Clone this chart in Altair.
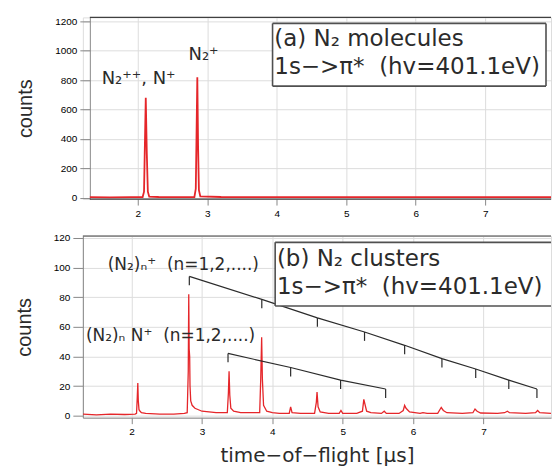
import altair as alt
import pandas as pd

# ---------- (a) N2 molecules: TOF spectrum ----------
tof_a = [1.31, 1.60, 1.90, 2.07, 2.09, 2.10, 2.115, 2.13, 2.145, 2.165, 2.30, 2.55,
         2.815, 2.835, 2.845, 2.857, 2.868, 2.88, 2.90, 3.20, 4.00, 5.00, 6.00, 7.00, 7.96]
counts_a = [3, 2, 3, 4, 40, 300, 680, 300, 40, 6, 4, 3,
            4, 60, 400, 820, 350, 50, 8, 4, 3, 3, 3, 3, 3]

# ---------- (b) N2 clusters: TOF spectrum ----------
tof_b = [1.31, 1.50, 1.70, 1.90, 2.05, 2.07, 2.08, 2.088, 2.095, 2.105, 2.12, 2.14,
         2.20, 2.40, 2.60, 2.75, 2.79, 2.805, 2.812, 2.818, 2.825, 2.83, 2.84, 2.86,
         2.90, 2.95, 3.00, 3.10, 3.20, 3.30, 3.36, 3.375, 3.385, 3.395, 3.41, 3.45,
         3.55, 3.70, 3.82, 3.835, 3.848, 3.858, 3.875, 3.92, 4.00, 4.10, 4.24, 4.26,
         4.28, 4.40, 4.60, 4.625, 4.635, 4.65, 4.68, 4.80, 4.95, 4.975, 5.00, 5.20,
         5.28, 5.30, 5.315, 5.34, 5.40, 5.55, 5.59, 5.62, 5.80, 5.86, 5.88, 5.90,
         5.95, 6.10, 6.14, 6.20, 6.35, 6.38, 6.40, 6.43, 6.48, 6.70, 6.85, 6.88,
         6.91, 6.96, 7.20, 7.30, 7.34, 7.37, 7.60, 7.74, 7.77, 7.80, 7.96]
counts_b = [1.0, 0.5, 1.0, 0.8, 1.0, 1.5, 12, 22, 10, 4, 3, 2,
            1.5, 1.0, 1.0, 1.5, 2, 30, 82, 45, 40, 20, 10, 7,
            5, 4, 3, 2.5, 2, 2, 2, 15, 30, 14, 5, 3,
            2, 2, 2, 25, 53, 25, 7, 3, 2, 1.5, 1.5, 6,
            2, 1.5, 1.5, 9, 16, 6, 2.5, 1.5, 1.5, 3.5, 1.5, 1.5,
            3, 11, 8, 3, 2, 1.5, 3, 1.5, 1.5, 3.5, 7, 5,
            2.5, 1.5, 2, 1.5, 1.5, 4, 5.5, 3.5, 2, 1.5, 2, 4.5,
            3, 1.8, 1.5, 2, 3, 2, 1.5, 2, 3.5, 2, 1.5]

# comb markers: (N2)n+ series and (N2)n N+ series (tick position, tick top)
comb1_t = [2.82, 3.85, 4.64, 5.31, 5.88, 6.41, 6.89, 7.36, 7.76]
comb1_y = [94, 78.5, 66, 56.5, 47.5, 38.5, 31.5, 24, 18]
comb2_t = [3.37, 4.26, 4.97, 5.61]
comb2_y = [42, 32.5, 24, 18]

RED = "#e5262a"
INK = "#2b2b2b"
FRAME = "#404040"
BOX = "#505050"
XTICKS = [2, 3, 4, 5, 6, 7]
GAP = "\u00a0\u00a0"

df_a = pd.DataFrame({"t": tof_a, "c": counts_a})
df_b = pd.DataFrame({"t": tof_b, "c": counts_b})
df_c1 = pd.DataFrame({"t": comb1_t, "y": comb1_y})
df_c2 = pd.DataFrame({"t": comb2_t, "y": comb2_y})

PANEL_W = 469
PANEL_H = 182
INSET_A = 7  # the upper frame starts a little to the right of the lower one


def xenc(domain, title, show_domain):
    return alt.X(
        "t:Q",
        scale=alt.Scale(domain=domain, nice=False, zero=False),
        axis=alt.Axis(values=XTICKS, format="d", title=title, tickSize=6,
                      tickCount=20, labelPadding=3, titlePadding=9, titleFontSize=20,
                      titleFont="DejaVu Sans", titleFontWeight="normal",
                      titleColor=INK, domain=show_domain, labelFlush=False),
    )


def yenc(domain, ticks, offset):
    return alt.Y(
        "c:Q",
        scale=alt.Scale(domain=domain, nice=False, zero=False),
        axis=alt.Axis(values=ticks, format="d", title="counts", tickSize=10,
                      tickCount=20, labelPadding=3, titlePadding=19, titleFontSize=20,
                      titleFont="Liberation Sans", titleFontWeight="normal",
                      titleColor=INK, offset=offset, labelOverlap=False),
    )


def hrule(x0, y, color=FRAME, width=1.2):
    return alt.Chart().mark_rule(color=color, strokeWidth=width).encode(
        x=alt.value(x0), x2=alt.value(PANEL_W), y=alt.value(y)
    )


def legend_box(x0, x1, ytop, ybot, closed):
    # white panel with a grey outline; the open one runs on past the right edge
    fill = alt.Chart().mark_rect(fill="white", clip=True).encode(
        x=alt.datum(x0), x2=alt.datum(x1), y=alt.datum(ytop), y2=alt.datum(ybot)
    )
    edges = [
        alt.Chart().mark_rule(color=BOX, strokeWidth=1.6, clip=True).encode(
            x=alt.datum(x0), x2=alt.datum(x1), y=alt.datum(yv))
        for yv in (ytop, ybot)
    ]
    sides = [x0, x1] if closed else [x0]
    verts = [
        alt.Chart().mark_rule(color=BOX, strokeWidth=1.6).encode(
            x=alt.datum(xv), y=alt.datum(ytop), y2=alt.datum(ybot))
        for xv in sides
    ]
    return [fill] + edges + verts


def label(text, x, y, size, font="DejaVu Sans"):
    return alt.Chart().mark_text(text=text, align="left", baseline="alphabetic",
                                 fontSize=size, font=font, color=INK,
                                 clip=True).encode(
        x=alt.datum(x), y=alt.datum(y)
    )


# ---------- top panel ----------
XDOM_A = [1.2094, 7.948]
YDOM_A = [-10, 1227]
line_a = alt.Chart(df_a).mark_line(color=RED, strokeWidth=1.8, clip=True).encode(
    x=xenc(XDOM_A, None, False),
    y=yenc(YDOM_A, [0, 200, 400, 600, 800, 1000, 1200], -INSET_A),
)
top = alt.layer(
    line_a,
    hrule(INSET_A, 0),
    hrule(INSET_A, PANEL_H),
    *legend_box(3.94, 7.876, 1186, 759, True),
    label("(a) N₂ molecules", 3.965, 1031, 23),
    label("1s−>π*" + GAP + "(hv=401.1eV)", 3.965, 841, 23),
    label("N₂⁺⁺, N⁺", 1.48, 773, 18),
    label("N₂⁺", 2.73, 936, 18),
).properties(width=PANEL_W, height=PANEL_H)

# ---------- bottom panel ----------
XDOM_B = [1.307, 7.96]
YDOM_B = [-1.35, 121.3]
line_b = alt.Chart(df_b).mark_line(color=RED, strokeWidth=1.3, clip=True).encode(
    x=xenc(XDOM_B, "time−of−flight [µs]", True),
    y=yenc(YDOM_B, [0, 20, 40, 60, 80, 100, 120], 0),
)


def comb(df):
    ln = alt.Chart(df).mark_line(color=INK, strokeWidth=1.2).encode(x="t:Q", y="y:Q")
    tk = alt.Chart(df).transform_calculate(y2="datum.y - 6").mark_rule(
        color=INK, strokeWidth=1.2).encode(x="t:Q", y="y:Q", y2="y2:Q")
    return ln + tk


bottom = alt.layer(
    line_b,
    hrule(0, 0),
    comb(df_c1),
    comb(df_c2),
    *legend_box(4.04, 9.0, 117, 74, False),
    label("(b) N₂ clusters", 4.065, 101, 23),
    label("1s−>π*" + GAP + "(hv=401.1eV)", 4.065, 82, 23),
    label("(N₂)ₙ⁺" + GAP + "(n=1,2,....)", 1.66, 98.4, 17),
    label("(N₂)ₙ N⁺" + GAP + "(n=1,2,....)", 1.35, 50.6, 17),
).properties(width=PANEL_W, height=PANEL_H)

chart = alt.vconcat(top, bottom, spacing=13).properties(
    padding={"left": 13, "top": 15, "right": 0, "bottom": 0}
).configure_view(stroke=None).configure_axis(
    domainColor=FRAME, tickColor=FRAME, domainWidth=1.2, tickWidth=1.2,
    labelFont="DejaVu Sans", labelFontSize=12, labelColor="#333", grid=False,
).configure(background="white")

chart.save("out.html", embed_options={"renderer": "svg", "actions": False})
